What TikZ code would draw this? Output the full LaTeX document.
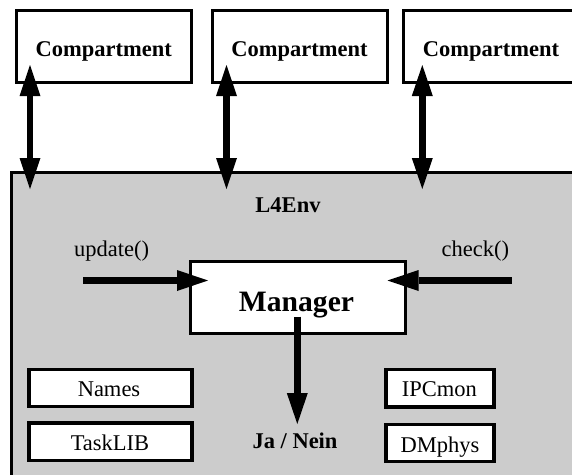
\documentclass[tikz,border=0pt]{standalone}
\usepackage{fontspec}
\setmainfont{Liberation Serif}
\usetikzlibrary{arrows.meta}
\tikzset{
  box/.style={draw=black, line width=3pt, fill=white, rectangle, inner sep=0pt},
  compbox/.style={box, minimum width=175pt, minimum height=72pt},
  libbox/.style={box, line width=3.2pt, minimum height=37.5pt},
  txt/.style={font=\fontsize{22.5}{27}\selectfont, inner sep=0pt, anchor=base},
  btxt/.style={txt, font=\bfseries\fontsize{22.5}{27}\selectfont},
  flow/.style={line width=6.5pt, -{Triangle[length=31pt,width=21pt,line width=0pt]}},
  both/.style={line width=6.5pt, {Triangle[length=31pt,width=21pt,line width=0pt]}-{Triangle[length=31pt,width=21pt,line width=0pt]}},
}
\begin{document}
\begin{tikzpicture}[x=1pt,y=-1pt]
  \clip (0,0) rectangle (572,474);

  % environment panel
  \node[draw=black, line width=3pt, fill={rgb,255:red,204;green,204;blue,204}, rectangle,
        inner sep=0pt, minimum width=568.5pt, minimum height=308pt] (env) at (295.75,326) {};
  \node[btxt] (envlbl) at (288,212) {L4Env};

  % compartments
  \node[compbox] (c1) at (103.5,46) {};
  \node[btxt] (c1lbl) at (103.8,56.7) {Compartment};
  \node[compbox] (c2) at (300,46) {};
  \node[btxt] (c2lbl) at (299.5,56.7) {Compartment};
  \node[compbox] (c3) at (491,46) {};
  \node[btxt] (c3lbl) at (491,56.7) {Compartment};

  % manager
  \node[box, minimum width=215pt, minimum height=72.5pt] (mgr) at (297.5,297.7) {};
  \node[btxt, font=\bfseries\fontsize{29.6}{34}\selectfont] (mgrlbl) at (296.5,311) {Manager};

  % library boxes
  \node[libbox, minimum width=163pt] (names) at (110.5,388) {};
  \node[txt] at (109,396.7) {Names};
  \node[libbox, minimum width=163pt] (tasklib) at (110.5,441.7) {};
  \node[txt] at (110,450) {TaskLIB};
  \node[libbox, minimum width=108pt] (ipcmon) at (440,388.3) {};
  \node[txt] at (439.3,396.7) {IPCmon};
  \node[libbox, minimum width=108pt] (dmphys) at (440,443) {};
  \node[txt] at (440,452) {DMphys};

  % labels
  \node[txt] (upd) at (111.7,256.5) {update()};
  \node[txt] (chk) at (475.3,256.5) {check()};
  \node[btxt] (jn) at (295,448.3) {Ja / Nein};

  % arrow end points
  \coordinate (a1t) at (30,65);    \coordinate (a1b) at (30,189);
  \coordinate (a2t) at (226.5,65); \coordinate (a2b) at (226.5,189);
  \coordinate (a3t) at (422.3,65); \coordinate (a3b) at (422.3,189);
  \coordinate (updS) at (83,280.5);   \coordinate (updE) at (208,280.5);
  \coordinate (chkS) at (511.5,280.5); \coordinate (chkE) at (387.5,280.5);
  \coordinate (outS) at (297.3,316.7); \coordinate (outE) at (297.3,424);

  % connectors
  \draw[both] (a1t) -- (a1b);
  \draw[both] (a2t) -- (a2b);
  \draw[both] (a3t) -- (a3b);
  \draw[flow] (updS) -- (updE);
  \draw[flow] (chkS) -- (chkE);
  \draw[flow] (outS) -- (outE);
\end{tikzpicture}
\end{document}
